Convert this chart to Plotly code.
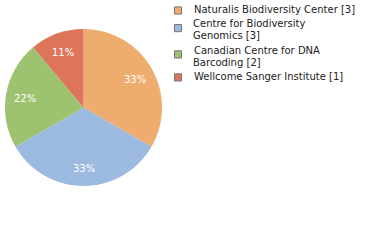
import math
import plotly.graph_objects as go

institutions = ["Naturalis Biodiversity Center", "Centre for Biodiversity<br>Genomics",
                "Canadian Centre for DNA<br>Barcoding", "Wellcome Sanger Institute"]
counts = [3, 3, 2, 1]
colors = ["#EEAC6E", "#9CB9DF", "#9DC370", "#DC7559"]

W, H = 380, 240
px0, px1, py0, py1 = 5, 162, 29, 186  # pie box in pixels

fig = go.Figure()
fig.add_trace(go.Pie(
    labels=[n.replace("<br>", " ") for n in institutions],
    values=counts,
    sort=False,
    direction="clockwise",
    rotation=0,
    marker=dict(colors=colors, line=dict(width=0)),
    textinfo="none",
    hoverinfo="label+value",
    domain=dict(x=[px0/W, px1/W], y=[1-py1/H, 1-py0/H]),
    showlegend=False,
))

annotations, shapes = [], []

# percentage labels placed along each slice's mid-angle
cx, cy = (px0 + px1) / 2, (py0 + py1) / 2
R = (px1 - px0) / 2
total = sum(counts)
acc = 0
for c in counts:
    mid = (acc + c / 2) / total * 2 * math.pi
    acc += c
    lx = cx + 0.76 * R * math.sin(mid)
    ly = cy - 0.76 * R * math.cos(mid) + 1.5
    annotations.append(dict(xref="paper", yref="paper", x=lx/W, y=1-ly/H,
                            xanchor="center", yanchor="middle", showarrow=False,
                            text=f"{round(100*c/total)}%",
                            font=dict(family="DejaVu Sans", size=10, color="white")))

# manual legend
y = 9.5
line_h = 12
for name, c, col in zip(institutions, counts, colors):
    lines = (name + f" [{c}]").split("<br>")
    sq_c = y + 1 + 3.3 * (len(lines) - 1)
    shapes.append(dict(type="rect", xref="paper", yref="paper",
                       x0=174.5/W, x1=181.5/W, y0=1-(sq_c-3.6)/H, y1=1-(sq_c+3.6)/H,
                       fillcolor=col, line=dict(color="#777777", width=1)))
    for k, ln in enumerate(lines):
        annotations.append(dict(xref="paper", yref="paper", x=191.5/W, y=1-(y+k*line_h)/H,
                                xanchor="left", yanchor="middle", showarrow=False,
                                text=ln, font=dict(family="DejaVu Sans", size=10, color="#222222")))
    y += len(lines) * line_h + 2.3

fig.update_layout(width=W, height=H, margin=dict(l=0, r=0, t=0, b=0),
                  paper_bgcolor="white", plot_bgcolor="white",
                  shapes=shapes, annotations=annotations)
fig.write_html("out.html")
